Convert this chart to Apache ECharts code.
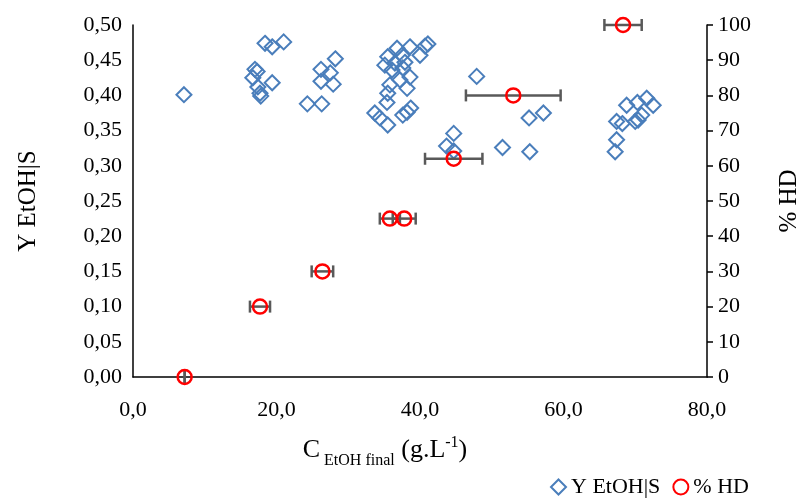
<!DOCTYPE html>
<html>
<head>
<meta charset="utf-8">
<script src="https://cdn.jsdelivr.net/npm/echarts@6/dist/echarts.min.js"></script>
<style>html,body{margin:0;padding:0;background:#fff}#c{width:799px;height:498px}</style>
</head>
<body>
<div id="c"></div>
<script>
// Y EtOH|S (left axis) vs C EtOH final
const yieldX = [7.1, 18.4, 19.4, 21.0, 17.0, 16.7, 17.3, 19.4, 17.4, 17.7, 17.8,
  24.3, 26.3, 26.2, 28.2, 27.5, 26.2, 27.9,
  33.7, 34.4, 35.5, 37.6, 38.2, 38.7, 35.4, 35.5, 38.2, 35.8, 37.2, 38.6, 36.1, 37.6,
  35.1, 36.5, 37.9, 35.5, 37.5, 36.8, 38.6, 40.0, 40.7, 41.1,
  47.9, 44.7, 43.7, 44.7, 51.5, 55.3, 55.2, 57.2,
  68.8, 70.3, 71.6, 72.5, 67.4, 68.2, 70.0, 70.4, 70.9, 67.4, 67.2];
const yieldY = [0.401, 0.474, 0.469, 0.476, 0.437, 0.425, 0.434, 0.418, 0.412, 0.403, 0.399,
  0.388, 0.388, 0.437, 0.452, 0.432, 0.420, 0.416,
  0.375, 0.368, 0.358, 0.372, 0.376, 0.382, 0.390, 0.403, 0.410, 0.415, 0.422, 0.426, 0.436, 0.439,
  0.443, 0.446, 0.447, 0.455, 0.457, 0.467, 0.469, 0.457, 0.470, 0.473,
  0.427, 0.346, 0.328, 0.321, 0.326, 0.320, 0.368, 0.375,
  0.386, 0.390, 0.396, 0.386, 0.363, 0.360, 0.363, 0.365, 0.372, 0.337, 0.320];
// % HD (right axis) with horizontal error
const hdX = [7.2, 17.7, 26.4, 35.8, 37.8, 44.7, 53.0, 68.3];
const hdY = [0, 20, 30, 45, 45, 62, 80, 100];
const hdErr = [0, 1.4, 1.5, 1.4, 1.6, 4.0, 6.6, 2.6];
const xTicks = [0, 20, 40, 60, 80];

const FONT = '"Liberation Serif", "Times New Roman", serif';
const chart = echarts.init(document.getElementById('c'));
const yieldData = yieldX.map((x, i) => [x, yieldY[i]]);
const hdData = hdX.map((x, i) => [x, hdY[i]]);
const errData = hdX.map((x, i) => [x, hdY[i], hdErr[i]]);

chart.setOption({
  animation: false,
  backgroundColor: '#fff',
  grid: {left: 133, right: 92, top: 25, bottom: 121, containLabel: false, outerBoundsMode: 'none'},
  xAxis: {
    type: 'value', min: xTicks[0], max: xTicks[xTicks.length - 1], interval: 20,
    axisLine: {lineStyle: {color: '#000', width: 1.5}},
    axisTick: {show: false}, splitLine: {show: false},
    axisLabel: {fontFamily: FONT, fontSize: 22, color: '#000', margin: 22,
      formatter: v => v.toFixed(1).replace('.', ',')},
    name: '{c|C}{s| EtOH final}{c| (g.L}{p|-1}{c|)}',
    nameLocation: 'middle', nameGap: 58,
    nameTextStyle: {
      padding: [0, 70, 0, 0],
      rich: {
        c: {fontFamily: FONT, fontSize: 26, color: '#000', verticalAlign: 'bottom', lineHeight: 28},
        s: {fontFamily: FONT, fontSize: 16, color: '#000', verticalAlign: 'bottom', padding: [0, 0, -6, 0], lineHeight: 28},
        p: {fontFamily: FONT, fontSize: 16, color: '#000', verticalAlign: 'top', lineHeight: 28}
      }
    }
  },
  yAxis: [{
    type: 'value', min: 0, max: 0.5, interval: 0.05,
    axisLine: {show: true, lineStyle: {color: '#000', width: 1.5}},
    axisTick: {show: false}, splitLine: {show: false},
    axisLabel: {fontFamily: FONT, fontSize: 22, color: '#000', margin: 11,
      formatter: v => v.toFixed(2).replace('.', ',')},
    name: 'Y EtOH|S', nameLocation: 'middle', nameGap: 92, nameRotate: 90,
    nameTextStyle: {fontFamily: FONT, fontSize: 25, color: '#000'}
  }, {
    type: 'value', min: 0, max: 100, interval: 10, position: 'right',
    axisLine: {show: true, lineStyle: {color: '#000', width: 1.5}},
    axisTick: {show: true, inside: false, length: 6, lineStyle: {color: '#000', width: 1.5}},
    splitLine: {show: false},
    axisLabel: {fontFamily: FONT, fontSize: 22, color: '#000', margin: 11},
    name: '% HD', nameLocation: 'middle', nameGap: 70, nameRotate: 90,
    nameTextStyle: {fontFamily: FONT, fontSize: 25, color: '#000'}
  }],
  legend: {
    left: 545, top: 471, itemWidth: 15, itemHeight: 15, itemGap: 12,
    textStyle: {fontFamily: FONT, fontSize: 22, color: '#000'},
    data: ['Y EtOH|S', '% HD']
  },
  series: [{
    name: 'Y EtOH|S', type: 'scatter', yAxisIndex: 0, data: yieldData,
    symbol: 'diamond', symbolSize: 15,
    itemStyle: {color: 'rgba(255,255,255,0)', borderColor: '#4a7ebb', borderWidth: 2, opacity: 1},
    z: 3
  }, {
    name: 'err', type: 'custom', yAxisIndex: 1, data: errData, z: 4,
    renderItem: (params, api) => {
      const x = api.value(0), y = api.value(1), e = api.value(2);
      const p1 = api.coord([x - e, y]), p2 = api.coord([x + e, y]);
      const st = {stroke: '#595959', lineWidth: 2.5};
      return {type: 'group', children: [
        {type: 'line', shape: {x1: p1[0], y1: p1[1], x2: p2[0], y2: p2[1]}, style: st},
        {type: 'line', shape: {x1: p1[0], y1: p1[1] - 6, x2: p1[0], y2: p1[1] + 6}, style: st},
        {type: 'line', shape: {x1: p2[0], y1: p2[1] - 6, x2: p2[0], y2: p2[1] + 6}, style: st}
      ]};
    }
  }, {
    name: '% HD', type: 'scatter', yAxisIndex: 1, data: hdData,
    symbol: 'circle', symbolSize: 14,
    itemStyle: {color: 'rgba(255,255,255,0)', borderColor: '#ff0000', borderWidth: 2.5, opacity: 1},
    z: 5
  }]
});
</script>
</body>
</html>
